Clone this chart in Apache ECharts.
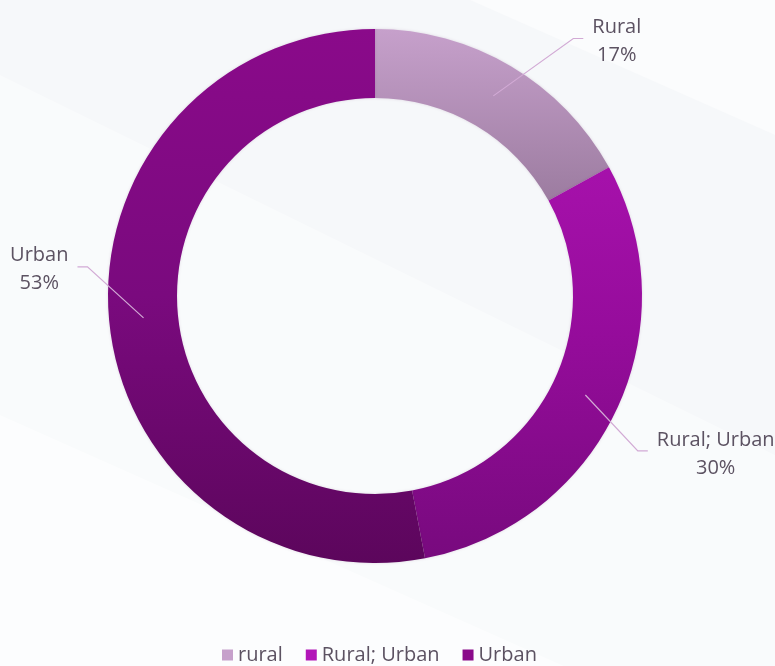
<!DOCTYPE html>
<html>
<head>
<meta charset="utf-8">
<script src="https://cdn.jsdelivr.net/npm/echarts@6/dist/echarts.min.js"></script>
<style>
  html, body { margin: 0; padding: 0; background: #f6f8fa; }
  #chart { width: 775px; height: 666px; }
</style>
</head>
<body>
<div id="chart"></div>
<script>
// Share of locations by setting
const categories = ['rural', 'Rural; Urban', 'Urban'];
const sliceLabels = ['Rural', 'Rural; Urban', 'Urban'];
const values = [17, 30, 53];

// Ring geometry and label placement (angle shift in degrees, elbow radius in px)
const CENTER = [375, 296];
const R_IN = 198;
const R_OUT = 267;
const labelPlacement = [
  { shift: 7, radius: 325 },
  { shift: 5.3, radius: 305 },
  { shift: 11.2, radius: 289 }
];
const TAIL = 10;      // horizontal part of the leader line
const TEXT_GAP = 9;   // space between leader line and text
const TEXT_DROP = 3;  // optical nudge so the two text lines sit centred on the tail

// Vertical shading for each slice, in page coordinates
const TOP = CENTER[1] - R_OUT, BOTTOM = CENTER[1] + R_OUT;
function shade(stops) {
  return new echarts.graphic.LinearGradient(0, TOP, 0, BOTTOM,
    stops.map(s => ({ offset: s[0], color: s[1] })), true);
}
const sliceFills = [
  shade([[0, '#c6a0cb'], [0.32, '#9c7ca0'], [1, '#735476']]),
  shade([[0, '#b216b8'], [0.32, '#a310a8'], [0.56, '#960c9c'], [0.96, '#7a0a80'], [1, '#780a7e']]),
  shade([[0, '#8a0a8a'], [0.5, '#7a0a7e'], [1, '#5c065c']])
];

const total = values.reduce((a, b) => a + b, 0);
function midAngle(i) {
  let before = 0;
  for (let k = 0; k < i; k++) before += values[k];
  return (before + values[i] / 2) / total * 360;
}
function polar(angleDeg, r) {
  const a = angleDeg * Math.PI / 180;
  return [CENTER[0] + r * Math.sin(a), CENTER[1] - r * Math.cos(a)];
}
// Leader line for slice i: from the middle of the ring out to the elbow, then a short horizontal tail
function leader(i) {
  const mid = midAngle(i);
  const start = polar(mid, (R_IN + R_OUT) / 2);
  const place = labelPlacement[i];
  const elbow = polar(mid + place.shift, place.radius);
  const side = elbow[0] >= CENTER[0] ? 1 : -1;
  const end = [elbow[0] + side * TAIL, elbow[1]];
  return { points: [start, elbow, end], end: end, side: side };
}

const chart = echarts.init(document.getElementById('chart'), null, { renderer: 'canvas' });

const textColor = '#5c5262';
const fontFamily = '"Open Sans", Lato, sans-serif';
const leaderColor = '#d2aad5';

// Soft diagonal light bands behind the chart
const backdrop = [
  { type: 'polygon', z: -10, silent: true,
    shape: { points: [[0, 75], [775, 455], [775, 666], [0, 666]] },
    style: { fill: 'rgba(255,255,255,0.4)' } },
  { type: 'polygon', z: -10, silent: true,
    shape: { points: [[0, 415], [775, 760], [775, 666], [0, 666]] },
    style: { fill: 'rgba(255,255,255,0.55)' } },
  { type: 'polygon', z: -10, silent: true,
    shape: { points: [[470, 0], [775, 0], [775, 135]] },
    style: { fill: 'rgba(255,255,255,0.5)' } }
];
const leaders = categories.map((_, i) => ({
  type: 'polyline', z: 100, silent: true,
  shape: { points: leader(i).points },
  style: { stroke: leaderColor, lineWidth: 1.2, fill: null }
}));

chart.setOption({
  backgroundColor: '#f6f8fa',
  animation: false,
  graphic: backdrop.concat(leaders),
  legend: {
    data: categories,
    left: 222,
    top: 645,
    padding: 0,
    icon: 'rect',
    itemWidth: 11,
    itemHeight: 11,
    itemGap: 23,
    textStyle: { color: textColor, fontSize: 20, fontFamily: fontFamily }
  },
  series: [{
    type: 'pie',
    center: CENTER,
    radius: [R_IN, R_OUT],
    startAngle: 90,
    clockwise: true,
    avoidLabelOverlap: false,
    data: categories.map((name, i) => ({
      name: name,
      value: values[i],
      itemStyle: { color: sliceFills[i] }
    })),
    itemStyle: { shadowBlur: 3, shadowColor: 'rgba(70,0,70,0.15)' },
    label: {
      show: true,
      position: 'outside',
      formatter: p => sliceLabels[p.dataIndex] + '\n' + Math.round(p.percent) + '%',
      color: textColor,
      fontSize: 20,
      lineHeight: 28,
      fontFamily: fontFamily
    },
    labelLine: { show: false },
    labelLayout: function (params) {
      const ld = leader(params.dataIndex);
      const w = params.labelRect.width;
      return {
        x: ld.end[0] + ld.side * (TEXT_GAP + w / 2),
        y: ld.end[1] + TEXT_DROP,
        align: 'center',
        verticalAlign: 'middle'
      };
    },
    emphasis: { disabled: true }
  }]
});
</script>
</body>
</html>
